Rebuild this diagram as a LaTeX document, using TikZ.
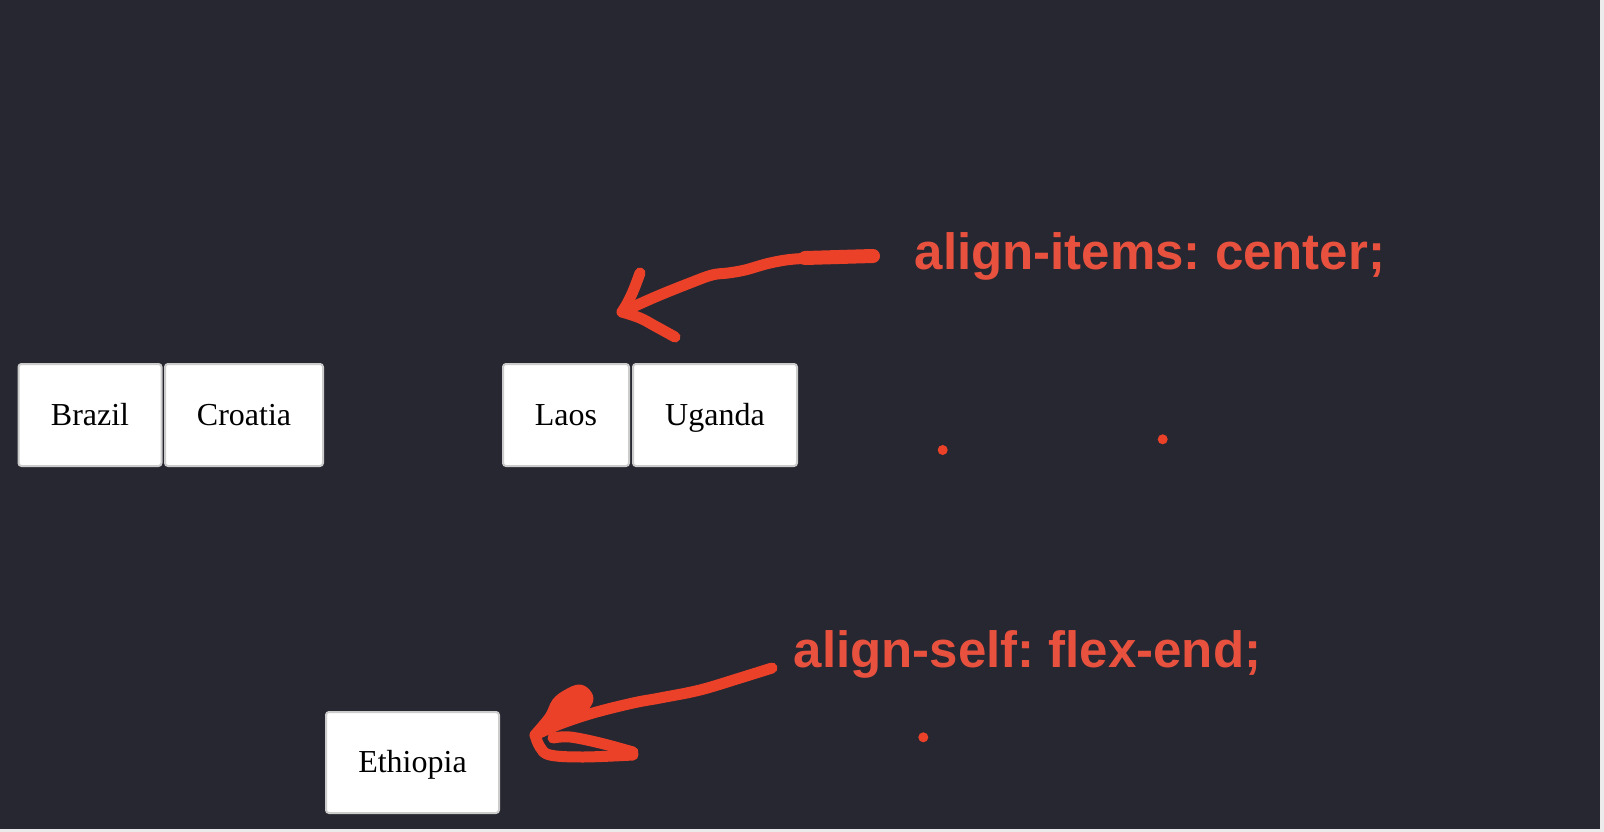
\documentclass[tikz,border=0pt]{standalone}
\usepackage{fontspec}
\setmainfont{Liberation Serif}
\newfontfamily\annofont{Liberation Sans}
\frenchspacing
\definecolor{bgdark}{HTML}{262730}
\definecolor{bglight}{HTML}{EBEBEB}
\definecolor{penred}{HTML}{EC4129}
\definecolor{textred}{HTML}{E9513F}
\definecolor{boxborder}{HTML}{CCCCCC}
\tikzset{
  flexbox/.style={draw=boxborder, fill=white, line width=2pt, rounded corners=3pt,
    font=\fontsize{32}{36}\selectfont, text height=25pt, text depth=5pt,
    inner sep=0pt, anchor=north west},
  anno/.style={font=\annofont\bfseries\fontsize{51}{58}\selectfont, text=textred,
    anchor=base west, inner sep=0pt},
  pen/.style={draw=penred, line width=11pt, line cap=round, line join=round},
  dot/.style={fill=penred}
}
\begin{document}
\frenchspacing
\begin{tikzpicture}[x=1pt,y=-1pt]
\useasboundingbox (0,0) rectangle (1604,832);
\fill[bglight] (0,0) rectangle (1604,832);
\fill[bgdark] (0,0) rectangle (1600,829);
% boxes
\node[flexbox, minimum width=143pt, minimum height=102pt] (brazil) at (17.5,363) {Brazil};
\node[flexbox, minimum width=158pt, minimum height=102pt] (croatia) at (164,363) {Croatia};
\node[flexbox, minimum width=126pt, minimum height=102pt] (laos) at (502,363) {Laos};
\node[flexbox, minimum width=164pt, minimum height=102pt] (uganda) at (632,363) {Uganda};
\node[flexbox, minimum width=173pt, minimum height=101pt] (ethiopia) at (325,711) {Ethiopia};
% annotations
\node[anno] (t1) at (914.5,269.5) {align-items: center;};
\node[anno] (t2) at (793.5,667.5) {align-self: flex-end;};
% top arrow
\coordinate (a1s) at (873,256);
\coordinate (a1t) at (622,312);
\draw[pen] plot[smooth, tension=0.6] coordinates {(a1s) (830,258) (795,259) (770,263) (745,270) (728,273) (712,275) (690,283) (660,295) (635,306) (a1t)};
\draw[pen, line width=14pt] (a1s) -- (805,258);
\draw[pen] plot[smooth, tension=0.6] coordinates {(640,273) (634,289) (628,302) (a1t)};
\draw[pen] plot[smooth, tension=0.6] coordinates {(a1t) (640,318) (655,326) (675,337)};
% bottom arrow
\coordinate (a2s) at (772,668);
\coordinate (a2t) at (535,735);
\draw[pen] plot[smooth, tension=0.6] coordinates {(a2s) (740,678) (700,690) (660,698) (633,703) (593,713) (560,724) (a2t)};
\fill[penred] plot[smooth cycle, tension=0.6] coordinates {(a2t) (550,715) (560,700) (575,692) (586,698) (580,712) (560,726)};
\draw[pen] plot[smooth, tension=0.6] coordinates {(a2t) (550,717) (557,703) (567,695) (580,690) (588,698) (583,708) (577,717)};
\draw[pen] plot[smooth, tension=0.6] coordinates {(a2t) (540,747) (550,755) (583,757) (633,755)};
\draw[pen] plot[smooth, tension=0.6] coordinates {(633,752) (600,743) (570,737) (553,738)};
% dots
\fill[dot] (942.7,450) circle (5);
\fill[dot] (1162.7,439.3) circle (5);
\fill[dot] (923.3,737.3) circle (5);
\end{tikzpicture}
\end{document}
